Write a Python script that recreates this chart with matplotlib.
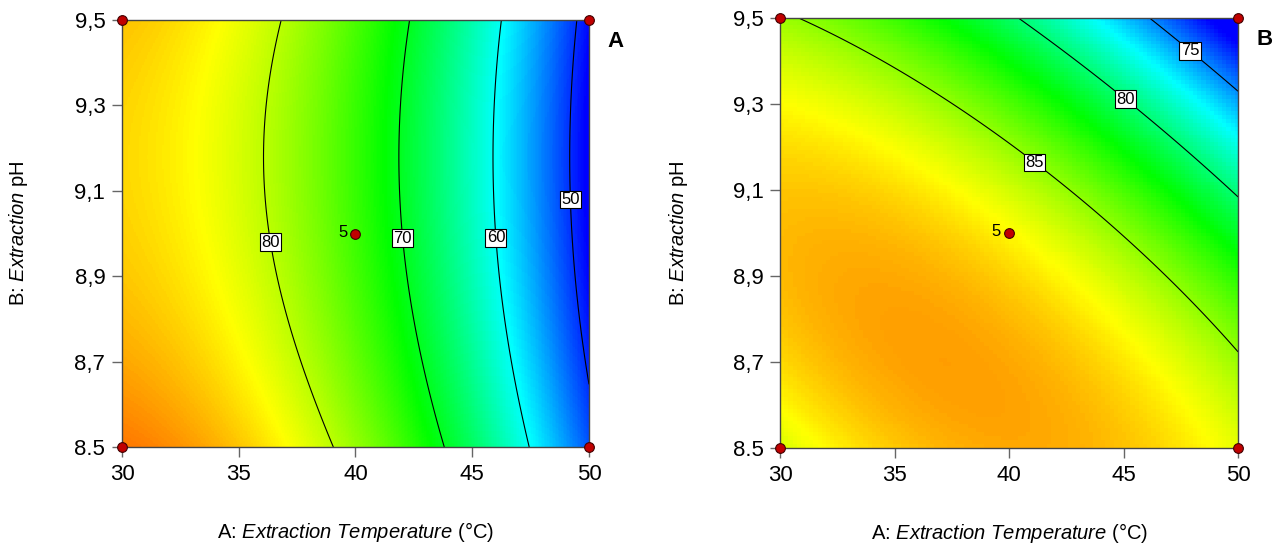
import numpy as np
import matplotlib
matplotlib.use("Agg")
import matplotlib.pyplot as plt
from matplotlib.colors import LinearSegmentedColormap

plt.rcParams['font.family'] = ['Liberation Sans', 'DejaVu Sans']
plt.rcParams['mathtext.fontset'] = 'custom'
plt.rcParams['mathtext.rm'] = 'Liberation Sans'
plt.rcParams['mathtext.it'] = 'Liberation Sans:italic'

# design ranges
temp_range = [30, 50]
ph_range = [8.5, 9.5]
xticks = [30, 35, 40, 45, 50]
yticks = [8.5, 8.7, 8.9, 9.1, 9.3, 9.5]
yticklabels = ["8.5", "8,7", "8,9", "9,1", "9,3", "9,5"]

# quadratic model coefficients (coded units): b0, A, B, AB, A^2, B^2
coef_A = [74.08, -18.85, -1.75, 0.0, -7.69, 2.45]
coef_B = [87.26, -3.555, -4.295, -3.671, -2.294, -2.668]
levels_A = [50, 60, 70, 80]
levels_B = [75, 80, 85]
crange_A = [47.7, 95.0]
crange_B = [72.2, 92.2]

# design points
pts_T = [30, 30, 50, 50, 40]
pts_pH = [8.5, 9.5, 8.5, 9.5, 9.0]
center_reps = "5"

lab_pos_A = [(49.2, 9.08), (46.1, 8.99), (42.2, 8.99), (36.4, 8.98)]
lab_pos_B = [(48.0, 9.43), (45.2, 9.32), (41.2, 9.17)]

cmap = LinearSegmentedColormap.from_list(
    "de", ["#0000ff", "#00ffff", "#00ff00", "#ffff00", "#ff0000"])


def model(c, T, P):
    a = (T - 40.0) / 10.0
    b = (P - 9.0) / 0.5
    return c[0] + c[1]*a + c[2]*b + c[3]*a*b + c[4]*a**2 + c[5]*b**2


fig = plt.figure(figsize=(12.79, 5.45), dpi=100)
axA = fig.add_axes([0.0954, 0.1798, 0.3651, 0.7835])
axB = fig.add_axes([0.6099, 0.178, 0.3581, 0.789])

panels = [(axA, coef_A, levels_A, crange_A, lab_pos_A, "A", 300),
          (axB, coef_B, levels_B, crange_B, lab_pos_B, "B", 110)]

for ax, c, lev, cr, lpos, letter, n in panels:
    T = np.linspace(temp_range[0], temp_range[1], n)
    P = np.linspace(ph_range[0], ph_range[1], n)
    TT, PP = np.meshgrid(T, P)
    Z = model(c, TT, PP)
    ax.imshow(Z, origin="lower", aspect="auto", cmap=cmap,
              vmin=cr[0], vmax=cr[1], interpolation="nearest",
              extent=[temp_range[0], temp_range[1], ph_range[0], ph_range[1]])
    Tf = np.linspace(temp_range[0], temp_range[1], 300)
    Pf = np.linspace(ph_range[0], ph_range[1], 300)
    TF, PF = np.meshgrid(Tf, Pf)
    cs = ax.contour(TF, PF, model(c, TF, PF), levels=lev, colors="black",
                    linewidths=0.8)
    labs = ax.clabel(cs, fmt="%d", fontsize=12, inline=False, manual=lpos)
    for t in labs:
        t.set_rotation(0)
        t.set_bbox(dict(facecolor="white", edgecolor="black",
                        linewidth=0.8, pad=1.0))
    ax.plot(pts_T, pts_pH, "o", color="#c00000", mec="#400000", mew=0.8,
            ms=7, clip_on=False, zorder=5)
    ax.annotate(center_reps, (pts_T[-1], pts_pH[-1]), xytext=(-6, 1),
                textcoords="offset points", ha="right", va="center",
                fontsize=12)
    ax.set_xlim(temp_range)
    ax.set_ylim(ph_range)
    ax.set_xticks(xticks)
    ax.set_xticklabels([str(v) for v in xticks])
    ax.set_yticks(yticks)
    ax.set_yticklabels(yticklabels)
    ax.tick_params(direction="out", length=7, width=1, color="#666666",
                   labelsize=16, pad=5)
    for s in ax.spines.values():
        s.set_color("#444444")
        s.set_linewidth(1)
    ax.set_xlabel("A: $\\mathit{Extraction\\ Temperature}$ (°C)", fontsize=14.5)
    ax.set_ylabel("B: $\\mathit{Extraction}$ pH", fontsize=14.5)
    ax.xaxis.set_label_coords(0.5, -0.17)
    ax.yaxis.set_label_coords(-0.197, 0.5)
    ax.text(1.04, 0.95, letter, transform=ax.transAxes, fontsize=16,
            fontweight="bold", ha="left", va="center")

fig.savefig("out.png", dpi=100)
